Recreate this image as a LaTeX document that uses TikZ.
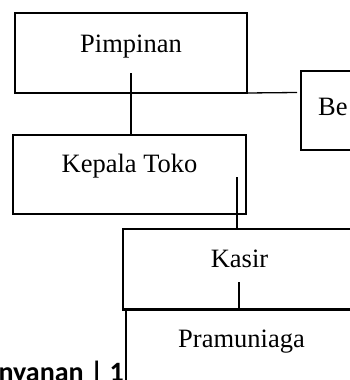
\documentclass[tikz,border=0pt]{standalone}
\usepackage{fontspec}
\setmainfont{Liberation Serif}
\newfontfamily\footfont{Carlito}
\begin{document}
\begin{tikzpicture}[x=1pt,y=-1pt,
  orgbox/.style={draw=black,line width=1.3pt,rectangle,inner sep=0pt,minimum width=232pt,minimum height=80pt},
  boxtext/.style={inner sep=0pt,anchor=base,font=\fontsize{26.5}{30}\selectfont},
  link/.style={draw=black,line width=1.3pt},
  thicklink/.style={draw=black,line width=2.4pt}]
\useasboundingbox (0,0) rectangle (350,380);
\clip (0,0) rectangle (350,380);
\fill[white] (0,0) rectangle (350,380);
% boxes
\node[orgbox] (pimp) at (131,53) {};
\node[orgbox,minimum width=233pt,minimum height=79pt] (kepala) at (129.5,174.5) {};
\node[orgbox,minimum height=79pt] (bend) at (417,110.5) {};
\node[orgbox] (kasir) at (239,269) {};
\node[orgbox,minimum height=100pt] (pram) at (242,359) {};
% texts
\node[boxtext] (tpimp) at (131,52) {Pimpinan};
\node[boxtext] (tkep) at (129.5,172) {Kepala Toko};
\node[boxtext,anchor=base west] (tbend) at (318,115) {Be};
\node[boxtext] (tkasir) at (239.5,267) {Kasir};
\node[boxtext] (tpram) at (241.5,347) {Pramuniaga};
\node[inner sep=0pt,anchor=base east,font=\footfont\bfseries\fontsize{28}{30}\selectfont] (foot) at (124,381) {nyanan | 1};
% connectors
\coordinate (p1) at (131,73);
\coordinate (p2) at (131,93);
\coordinate (p3) at (247,93);
\coordinate (p4) at (297,92.5);
\draw[link] (p1) -- (p1 |- kepala.north);
\draw[thicklink] (p2) -- (p3);
\draw[link] (p3) -- (p4);
\coordinate (k1) at (237,177);
\draw[link] (k1) -- (k1 |- kasir.north);
\coordinate (s1) at (239,282);
\draw[link] (s1) -- (s1 |- kasir.south);
\draw[thicklink] (kasir.south west) -- (kasir.south east);
\end{tikzpicture}
\end{document}
